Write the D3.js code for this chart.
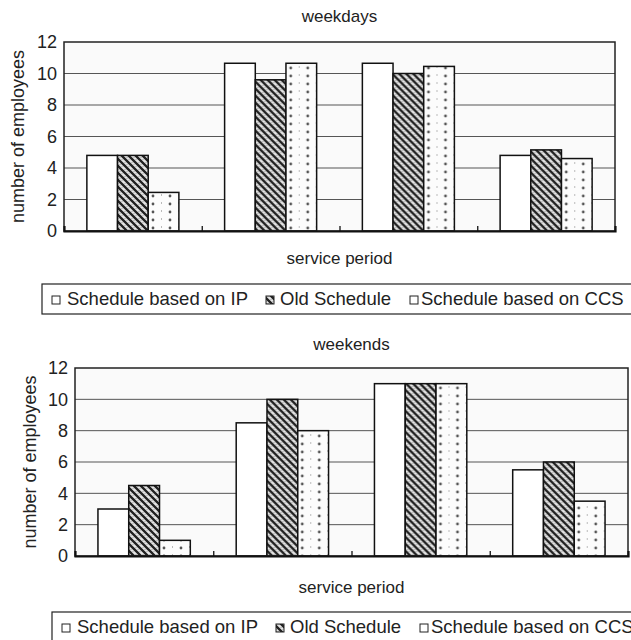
<!DOCTYPE html>
<html>
<head>
<meta charset="utf-8">
<script src="https://cdn.jsdelivr.net/npm/d3@7"></script>
<style>
  body { margin: 0; background: #fff; }
  svg { display: block; font-family: "Liberation Sans", Arial, sans-serif; }
</style>
</head>
<body>
<svg id="chart"></svg>
<script>
// data
const periods = ["period 1", "period 2", "period 3", "period 4"];
const seriesNames = ["Schedule based on IP", "Old Schedule", "Schedule based on CCS"];
const weekdayIP = [4.8, 10.65, 10.65, 4.8];
const weekdayOld = [4.8, 9.6, 10.0, 5.15];
const weekdayCCS = [2.45, 10.65, 10.45, 4.6];
const weekendIP = [3.0, 8.5, 11.0, 5.5];
const weekendOld = [4.5, 10.0, 11.0, 6.0];
const weekendCCS = [1.0, 8.0, 11.0, 3.5];
const yTicks = [0, 2, 4, 6, 8, 10, 12];

const width = 631, height = 640;
const svg = d3.select("#chart").attr("width", width).attr("height", height);

// patterns
const defs = svg.append("defs");
const hatch = defs.append("pattern")
    .attr("id", "hatch")
    .attr("patternUnits", "userSpaceOnUse")
    .attr("width", 7).attr("height", 7);
hatch.append("rect").attr("width", 7).attr("height", 7).attr("fill", "#e8e8e8");
hatch.append("path")
    .attr("d", "M-1,-1 L8,8 M-8,-1 L1,8 M6,-1 L15,8")
    .attr("stroke", "#222").attr("stroke-width", 2.4);
hatch.append("path")
    .attr("d", "M2.5,-1 L11.5,8 M-4.5,-1 L4.5,8")
    .attr("stroke", "#9a9a9a").attr("stroke-width", 1).attr("stroke-dasharray", "1.4,1.4");

const dots = defs.append("pattern")
    .attr("id", "dots")
    .attr("patternUnits", "userSpaceOnUse")
    .attr("width", 17).attr("height", 8);
dots.append("rect").attr("width", 17).attr("height", 8).attr("fill", "#fcfcfc");
dots.append("circle").attr("cx", 4).attr("cy", 4).attr("r", 1.4).attr("fill", "#555");
dots.append("line").attr("x1", 12.5).attr("x2", 12.5).attr("y1", 2).attr("y2", 4)
    .attr("stroke", "#aaa").attr("stroke-width", 0.8);

const fills = ["#ffffff", "url(#hatch)", "url(#dots)"];

function drawPanel(cfg) {
    const g = svg.append("g");
    const series = [cfg.ip, cfg.old, cfg.ccs];
    const rows = periods.map((p, i) => ({ period: p, values: series.map(s => s[i]) }));

    const x0 = d3.scaleBand().domain(periods).range([cfg.left, cfg.right]);
    const x1 = d3.scaleBand().domain(seriesNames)
        .range([x0.step() * 0.166, x0.step() * 0.834]);
    const xEdge = d3.scaleLinear().domain([0, periods.length]).range([cfg.left, cfg.right]);
    const y = d3.scaleLinear().domain([0, 12]).range([cfg.bottom, cfg.top]);

    // plot background
    g.append("rect")
        .attr("x", cfg.left).attr("y", cfg.top)
        .attr("width", cfg.right - cfg.left).attr("height", cfg.bottom - cfg.top)
        .attr("fill", "#fafafa");

    // grid
    g.append("g")
        .selectAll("line")
        .data(yTicks.slice(1, -1))
        .join("line")
        .attr("x1", cfg.left).attr("x2", cfg.right)
        .attr("y1", d => y(d)).attr("y2", d => y(d))
        .attr("stroke", "#555").attr("stroke-width", 1);

    // bars
    g.append("g")
        .selectAll("g")
        .data(rows)
        .join("g")
        .attr("transform", d => `translate(${x0(d.period)},0)`)
        .selectAll("rect")
        .data(d => d.values.map((v, i) => ({ name: seriesNames[i], value: v, i: i })))
        .join("rect")
        .attr("x", d => x1(d.name))
        .attr("y", d => y(d.value))
        .attr("width", x1.bandwidth())
        .attr("height", d => y(0) - y(d.value))
        .attr("fill", d => fills[d.i])
        .attr("stroke", "#111")
        .attr("stroke-width", 1.5);

    // frame
    g.append("rect")
        .attr("x", cfg.left).attr("y", cfg.top)
        .attr("width", cfg.right - cfg.left).attr("height", cfg.bottom - cfg.top)
        .attr("fill", "none").attr("stroke", "#222").attr("stroke-width", 1.5);

    // x axis with boundary ticks
    g.append("g")
        .attr("transform", `translate(0,${cfg.bottom})`)
        .call(d3.axisBottom(xEdge).tickValues([1, 2, 3]).tickSize(-5).tickFormat(""))
        .call(a => a.select(".domain").attr("stroke", "#111").attr("stroke-width", 2.2))
        .call(a => a.selectAll(".tick line").attr("stroke", "#111").attr("stroke-width", 1.3));

    // y axis labels
    g.append("g")
        .attr("transform", `translate(${cfg.left},0)`)
        .call(d3.axisLeft(y).tickValues(yTicks).tickSize(0).tickPadding(7))
        .call(a => a.select(".domain").remove())
        .call(a => a.selectAll("text")
            .attr("font-family", "\"Liberation Sans\", Arial, sans-serif")
            .attr("font-size", 18).attr("fill", "#222"));

    // titles
    g.append("text")
        .attr("x", (cfg.left + cfg.right) / 2).attr("y", cfg.titleY)
        .attr("text-anchor", "middle").attr("font-size", 17).attr("fill", "#222")
        .text(cfg.title);

    g.append("text")
        .attr("x", (cfg.left + cfg.right) / 2).attr("y", cfg.xLabelY)
        .attr("text-anchor", "middle").attr("font-size", 17).attr("fill", "#222")
        .text("service period");

    g.append("text")
        .attr("transform", `translate(${cfg.yLabelX},${(cfg.top + cfg.bottom) / 2}) rotate(-90)`)
        .attr("text-anchor", "middle").attr("dy", "0.35em")
        .attr("font-size", 18).attr("fill", "#222")
        .text("number of employees");

    // legend
    const lg = g.append("g").attr("transform", `translate(${cfg.legendX},${cfg.legendY})`);
    lg.append("rect")
        .attr("x", 0).attr("y", 0).attr("width", 700).attr("height", 30)
        .attr("fill", "#fff").attr("stroke", "#222").attr("stroke-width", 1.2);
    const symX = [10, 224, 368];
    const textX = [25, 238, 379];
    const item = lg.selectAll("g.item")
        .data(seriesNames)
        .join("g")
        .attr("class", "item");
    item.append("rect")
        .attr("x", (d, i) => symX[i]).attr("y", 12).attr("width", 8).attr("height", 8)
        .attr("fill", (d, i) => i === 1 ? "url(#hatch)" : "#fff")
        .attr("stroke", "#222").attr("stroke-width", 1);
    item.append("text")
        .attr("x", (d, i) => textX[i]).attr("y", 21)
        .attr("font-size", 18.5).attr("fill", "#222")
        .text(d => d);
}

drawPanel({
    title: "weekdays", ip: weekdayIP, old: weekdayOld, ccs: weekdayCCS,
    left: 64, right: 615, top: 42, bottom: 231,
    titleY: 22, xLabelY: 264, yLabelX: 18, legendX: 42, legendY: 284
});

drawPanel({
    title: "weekends", ip: weekendIP, old: weekendOld, ccs: weekendCCS,
    left: 75, right: 628, top: 368, bottom: 556,
    titleY: 350, xLabelY: 593, yLabelX: 30, legendX: 52, legendY: 612
});
</script>
</body>
</html>
